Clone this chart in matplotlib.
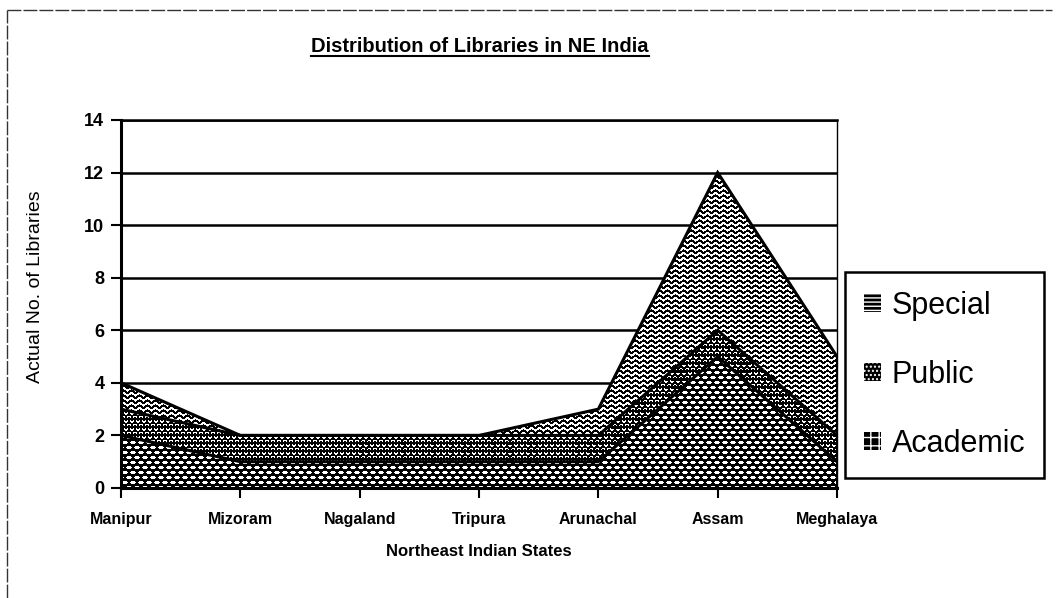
import numpy as np
import matplotlib
matplotlib.use("Agg")
import matplotlib.pyplot as plt
from matplotlib.lines import Line2D
from matplotlib.patches import Patch

plt.rcParams['font.family'] = ['Liberation Sans', 'DejaVu Sans']

# ---- data -------------------------------------------------------------
states = ["Manipur", "Mizoram", "Nagaland", "Tripura", "Arunachal", "Assam", "Meghalaya"]
academic = [2, 1, 1, 1, 1, 5, 1]
public = [1, 1, 1, 1, 1, 1, 1]
special = [1, 0, 0, 0, 1, 6, 3]
y_ticks = [0, 2, 4, 6, 8, 10, 12, 14]
series_names = ["Special", "Public", "Academic"]

W, H, DPI = 1056, 598, 100
fig = plt.figure(figsize=(W / DPI, H / DPI), dpi=DPI)
ax = fig.add_axes([121 / W, 1 - 488 / H, (837 - 121) / W, (488 - 120) / H])

x = np.arange(len(states))
acad_top = np.array(academic, float)
pub_top = acad_top + np.array(public, float)
spec_top = pub_top + np.array(special, float)


def texture(kind, w, h):
    """Monochrome fill texture in device pixels."""
    r, c = np.mgrid[0:h, 0:w].astype(float)
    if kind == "special":
        ph = r + 1.2 * np.sin(2 * np.pi * c / 8.0)
        ink = (ph % 5) < 2.3
    elif kind == "public":
        ph = r + 1.0 * np.sin(2 * np.pi * c / 6.0)
        row = np.floor(ph / 4)
        white = ((ph % 4) < 1.4) & (((c + 3 * (row % 2)) % 6) < 3.2)
        ink = ~white
    else:  # brick-like ovals
        row = np.floor(r / 5)
        cx = (c + 4 * (row % 2)) % 8 - 3.5
        cy = (r % 5) - 2.0
        white = (cx / 3.1) ** 2 + (cy / 1.3) ** 2 < 1
        ink = ~white
    g = np.where(ink, 0.0, 1.0)
    return np.dstack([g, g, g])


bb = ax.bbox
pw, ph = int(round(bb.width)), int(round(bb.height))

layers = [
    (np.zeros(len(states)), acad_top, "academic"),
    (acad_top, pub_top, "public"),
    (pub_top, spec_top, "special"),
]
for lo, hi, kind in layers:
    poly = ax.fill_between(x, lo, hi, facecolor="none", edgecolor="none")
    im = ax.imshow(texture(kind, pw, ph), extent=(0, len(states) - 1, 0, 14),
                   origin="upper", interpolation="nearest", aspect="auto", zorder=2)
    im.set_clip_path(poly.get_paths()[0], transform=ax.transData)

# layer boundaries
for top in (acad_top, pub_top, spec_top):
    ax.plot(x, top, color="black", lw=2.2, zorder=3, solid_joinstyle="miter")
ax.plot([x[-1], x[-1]], [0, spec_top[-1]], color="black", lw=2.2, zorder=3)

ax.set_xlim(0, len(states) - 1)
ax.set_ylim(0, 14)

# grid and frame
ax.set_axisbelow(True)
ax.yaxis.grid(True, color="black", lw=1.8)
ax.spines["left"].set_linewidth(2.2)
ax.spines["bottom"].set_linewidth(2.2)
ax.spines["right"].set_linewidth(1.0)
ax.spines["top"].set_linewidth(1.8)
for s in ax.spines.values():
    s.set_color("black")

ax.set_yticks(y_ticks, labels=[str(v) for v in y_ticks], fontsize=13, fontweight="bold")
ax.set_xticks(x, labels=states, fontsize=11.5, fontweight="bold")
ax.tick_params(axis="y", direction="out", length=7, width=1.5, pad=5)
ax.tick_params(axis="x", direction="out", length=7, width=1.5, pad=10)

# axis titles
fig.text(36 / W, 1 - 287 / H, "Actual No. of Libraries", rotation=90,
         ha="center", va="center", fontsize=14)
fig.text(479 / W, 1 - 552 / H, "Northeast Indian States", ha="center", va="center",
         fontsize=12, fontweight="bold")

# underlined title
title = fig.text(480 / W, 1 - 52 / H, "Distribution of Libraries in NE India",
                 ha="center", va="baseline", fontsize=14.5, fontweight="bold")
fig.canvas.draw()
tb = title.get_window_extent()
fig.add_artist(Line2D([tb.x0 / W, tb.x1 / W], [1 - 56 / H, 1 - 56 / H],
                      transform=fig.transFigure, color="black", lw=1.5))

# legend
handles = [
    Patch(facecolor="black", edgecolor="white", hatch="----", lw=0),
    Patch(facecolor="black", edgecolor="white", hatch="....", lw=0),
    Patch(facecolor="black", edgecolor="white", hatch="++", lw=0),
]
leg = fig.legend(handles, series_names, loc="upper left",
                 bbox_to_anchor=(845 / W, 1 - 272 / H), borderaxespad=0,
                 fontsize=22, labelspacing=1.27, borderpad=0.62,
                 handlelength=0.55, handleheight=0.55, handletextpad=0.35,
                 fancybox=False, framealpha=1)
leg.get_frame().set_edgecolor("black")
leg.get_frame().set_linewidth(1.8)

# page border
border = dict(transform=fig.transFigure, color="#333333", lw=1.0, linestyle=(0, (10, 1.5)))
fig.add_artist(Line2D([7 / W, 7 / W], [0, 1 - 10 / H], **border))
fig.add_artist(Line2D([7 / W, 1052 / W], [1 - 10 / H, 1 - 10 / H], **border))

fig.savefig("out.png", dpi=DPI)
